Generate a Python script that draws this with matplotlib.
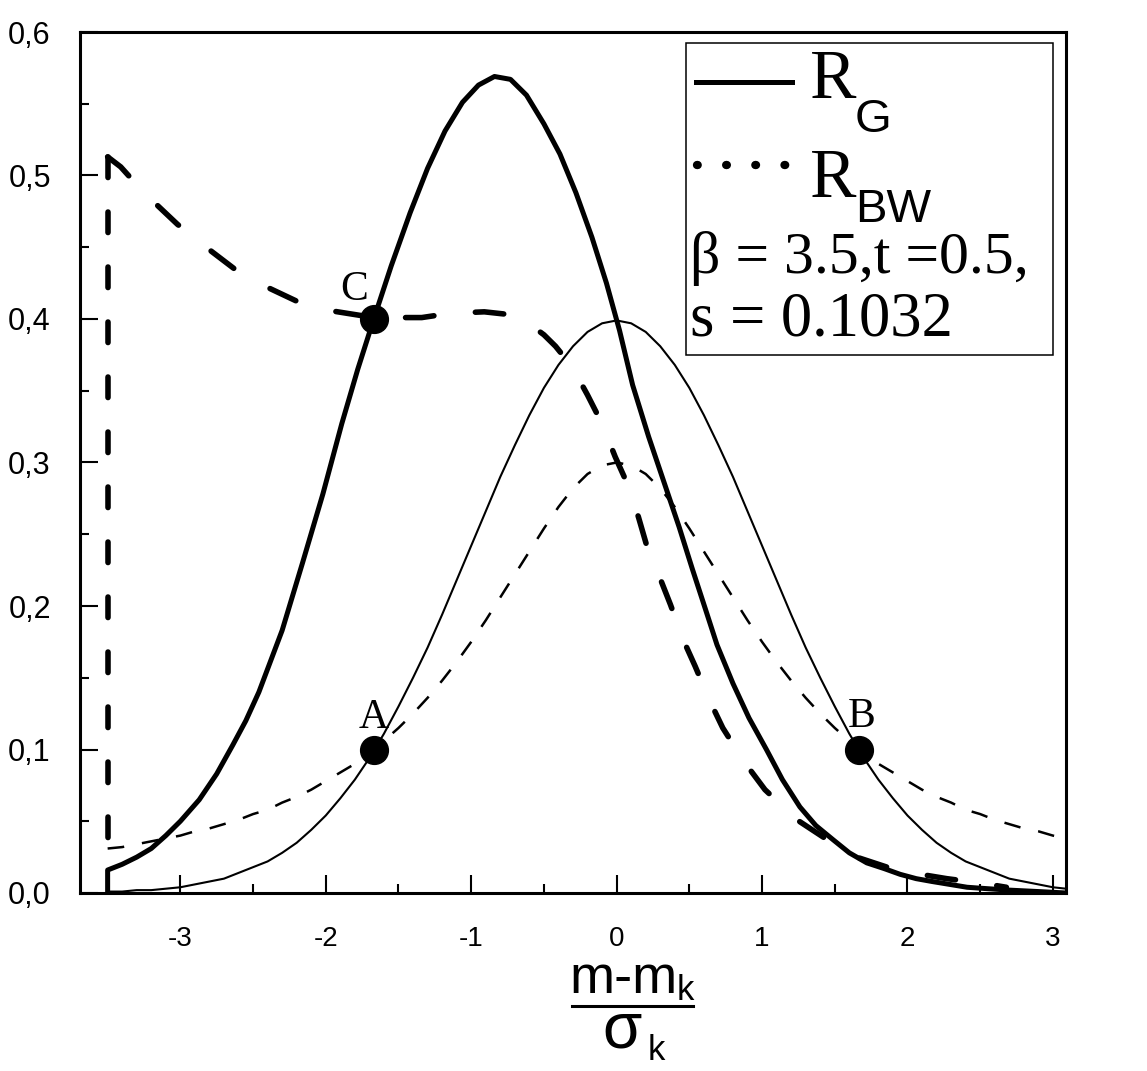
import matplotlib
matplotlib.use('Agg')
import matplotlib.pyplot as plt
from matplotlib.lines import Line2D
from matplotlib.patches import Rectangle
from matplotlib.ticker import MultipleLocator, FuncFormatter

plt.rcParams['lines.scale_dashes'] = False
plt.rcParams['axes.unicode_minus'] = False

W, H = 1147, 1071

# x grid used for the two thin curves (read every 0.1)
thin_x = [-3.5, -3.4, -3.3, -3.2, -3.1, -3.0, -2.9, -2.8, -2.7, -2.6,
          -2.5, -2.4, -2.3, -2.2, -2.1, -2.0, -1.9, -1.8, -1.7, -1.6,
          -1.5, -1.4, -1.3, -1.2, -1.1, -1.0, -0.9, -0.8, -0.7, -0.6,
          -0.5, -0.4, -0.3, -0.2, -0.1, 0.0, 0.1, 0.2, 0.3, 0.4,
          0.5, 0.6, 0.7, 0.8, 0.9, 1.0, 1.1, 1.2, 1.3, 1.4,
          1.5, 1.6, 1.7, 1.8, 1.9, 2.0, 2.1, 2.2, 2.3, 2.4,
          2.5, 2.6, 2.7, 2.8, 2.9, 3.0, 3.09]

# thin solid: gaussian
gauss_y = [0.001, 0.001, 0.002, 0.002, 0.003, 0.004, 0.006, 0.008, 0.010, 0.014,
           0.018, 0.022, 0.028, 0.035, 0.044, 0.054, 0.066, 0.079, 0.094, 0.111,
           0.130, 0.150, 0.171, 0.194, 0.218, 0.242, 0.266, 0.290, 0.312, 0.333,
           0.352, 0.368, 0.381, 0.391, 0.397, 0.399, 0.397, 0.391, 0.381, 0.368,
           0.352, 0.333, 0.312, 0.290, 0.266, 0.242, 0.218, 0.194, 0.171, 0.150,
           0.130, 0.111, 0.094, 0.079, 0.066, 0.054, 0.044, 0.035, 0.028, 0.022,
           0.018, 0.014, 0.010, 0.008, 0.006, 0.004, 0.003]

# thin dashed: breit-wigner
bw_y = [0.031, 0.032, 0.034, 0.036, 0.038, 0.040, 0.043, 0.045, 0.048, 0.051,
        0.055, 0.058, 0.063, 0.067, 0.072, 0.078, 0.084, 0.090, 0.098, 0.106,
        0.115, 0.125, 0.136, 0.148, 0.161, 0.175, 0.190, 0.206, 0.222, 0.238,
        0.254, 0.269, 0.282, 0.292, 0.298, 0.300, 0.298, 0.292, 0.282, 0.269,
        0.254, 0.238, 0.222, 0.206, 0.190, 0.175, 0.161, 0.148, 0.136, 0.125,
        0.115, 0.106, 0.098, 0.090, 0.084, 0.078, 0.072, 0.067, 0.063, 0.058,
        0.055, 0.051, 0.048, 0.045, 0.043, 0.040, 0.038]

# thick solid: R_G
rg_x = [-3.50, -3.50, -3.40, -3.30, -3.20, -3.10, -3.00, -2.87, -2.75, -2.64,
        -2.55, -2.46, -2.30, -2.16, -2.02, -1.89, -1.78, -1.67, -1.55, -1.42,
        -1.30, -1.18, -1.06, -0.95, -0.84, -0.73, -0.62, -0.50, -0.39, -0.28,
        -0.17, -0.07, 0.02, 0.11, 0.22, 0.33, 0.43, 0.52, 0.61, 0.69,
        0.80, 0.91, 1.03, 1.14, 1.26, 1.37, 1.49, 1.60, 1.72, 1.84,
        1.95, 2.06, 2.17, 2.29, 2.41, 2.55, 2.70, 2.90, 3.09]
rg_y = [0.000, 0.016, 0.020, 0.025, 0.031, 0.040, 0.050, 0.065, 0.083, 0.103,
        0.120, 0.140, 0.183, 0.230, 0.278, 0.327, 0.365, 0.400, 0.437, 0.474,
        0.505, 0.531, 0.551, 0.563, 0.569, 0.567, 0.556, 0.536, 0.515, 0.488,
        0.457, 0.425, 0.392, 0.354, 0.318, 0.285, 0.255, 0.226, 0.198, 0.173,
        0.146, 0.122, 0.100, 0.079, 0.060, 0.047, 0.037, 0.028, 0.021, 0.017,
        0.013, 0.010, 0.008, 0.006, 0.004, 0.003, 0.002, 0.001, 0.000]

# thick dashed: R_BW
rbw_x = [-3.50, -3.50, -3.41, -3.25, -3.02, -2.81, -2.59, -2.40, -2.17, -1.98,
         -1.67, -1.34, -1.14, -0.91, -0.73, -0.62, -0.50, -0.42, -0.34, -0.27,
         -0.20, -0.10, -0.01, 0.07, 0.15, 0.21, 0.30, 0.37, 0.46, 0.54,
         0.64, 0.73, 0.88, 1.02, 1.24, 1.45, 1.65, 1.86, 2.09, 2.27,
         2.50, 2.68]
rbw_y = [0.030, 0.513, 0.506, 0.488, 0.466, 0.449, 0.432, 0.422, 0.411, 0.406,
         0.401, 0.401, 0.404, 0.405, 0.403, 0.398, 0.389, 0.381, 0.371, 0.360,
         0.347, 0.327, 0.304, 0.286, 0.262, 0.241, 0.219, 0.201, 0.176, 0.158,
         0.134, 0.115, 0.091, 0.072, 0.051, 0.037, 0.025, 0.018, 0.013, 0.010,
         0.007, 0.004]

pts_x = [-1.67, 1.67, -1.67]
pts_y = [0.10, 0.10, 0.40]
pts_labels = ['A', 'B', 'C']
label_offsets = [(0, 15.5), (1.5, 16.5), (-14, 13.5)]

fig = plt.figure(figsize=(W / 100, H / 100), dpi=100)
ax = fig.add_axes([80 / W, 1 - 893 / H, (1066 - 80) / W, (893 - 32) / H])

ax.plot(thin_x, gauss_y, color='black', lw=1.5)
ax.plot(thin_x, bw_y, color='black', lw=1.8, dashes=(12, 13))
ax.plot(rg_x, rg_y, color='black', lw=3.6, solid_joinstyle='round')
ax.plot(rbw_x[1::-1], rbw_y[1::-1], color='black', lw=4.0,
        dashes=(14.8, 24.8), dash_capstyle='round')
ax.plot(rbw_x[1:], rbw_y[1:], color='black', lw=4.0,
        dashes=(20.5, 30), dash_capstyle='round')

ax.plot(pts_x, pts_y, 'o', color='black', ms=20, zorder=5)
for x, y, lab, off in zip(pts_x, pts_y, pts_labels, label_offsets):
    ax.annotate(lab, xy=(x, y), xytext=off, textcoords='offset points',
                ha='center', va='baseline', fontsize=30,
                family='Liberation Serif', zorder=6)

ax.set_xlim(-3.69, 3.09)
ax.set_ylim(0, 0.6)
ax.xaxis.set_major_locator(MultipleLocator(1))
ax.xaxis.set_minor_locator(MultipleLocator(0.5))
ax.yaxis.set_major_locator(MultipleLocator(0.1))
ax.yaxis.set_minor_locator(MultipleLocator(0.05))
ax.xaxis.set_major_formatter(FuncFormatter(lambda v, p: '%d' % round(v)))
ax.yaxis.set_major_formatter(FuncFormatter(lambda v, p: ('%.1f' % v).replace('.', ',')))
ax.tick_params(which='both', direction='in', top=False, right=False, width=1.5)
ax.tick_params(which='major', length=13)
ax.tick_params(which='minor', length=6.5)
ax.tick_params(axis='x', pad=24, labelsize=20)
ax.tick_params(axis='y', pad=21, labelsize=22)
for lab in ax.get_xticklabels() + ax.get_yticklabels():
    lab.set_family('Liberation Sans')
for sp in ax.spines.values():
    sp.set_linewidth(2.2)


def fx(px):
    return px / W


def fy(py):
    return 1 - py / H


# legend box
fig.add_artist(Rectangle((fx(686), fy(355)), fx(1053) - fx(686), fy(43) - fy(355),
                         transform=fig.transFigure, facecolor='white',
                         edgecolor='black', lw=1.1, zorder=3))
fig.add_artist(Line2D([fx(696), fx(792)], [fy(82), fy(82)], color='black', lw=3.6,
                      transform=fig.transFigure, zorder=4))
fig.add_artist(Line2D([fx(697), fx(790)], [fy(165), fy(165)], color='black', lw=6,
                      dashes=(0.5, 20.5), dash_capstyle='round',
                      transform=fig.transFigure, zorder=4))
serif = 'Liberation Serif'
sans = 'Liberation Sans'
fig.text(fx(810), fy(98), 'R', fontsize=50, family=serif, va='baseline', zorder=4)
fig.text(fx(855), fy(132), 'G', fontsize=34, family=sans, va='baseline', zorder=4)
fig.text(fx(810), fy(197), 'R', fontsize=50, family=serif, va='baseline', zorder=4)
fig.text(fx(855), fy(222), 'BW', fontsize=34, family=sans, va='baseline', zorder=4)
fig.text(fx(690), fy(273), '\u03b2 = 3.5,t =0.5,', fontsize=43, family=serif,
         va='baseline', zorder=4)
fig.text(fx(690), fy(335), 's = 0.1032', fontsize=45, family=serif,
         va='baseline', zorder=4)

# x label as a fraction
fig.text(fx(569), fy(993), 'm-m', fontsize=39, family=sans, va='baseline')
fig.text(fx(677), fy(1000), 'k', fontsize=25, family=sans, va='baseline')
fig.add_artist(Line2D([fx(572), fx(693)], [fy(1006), fy(1006)], color='black', lw=2.2,
                      transform=fig.transFigure))
fig.text(fx(602), fy(1048), '\u03c3', fontsize=46, family=sans, va='baseline')
fig.text(fx(648), fy(1060), 'k', fontsize=25, family=sans, va='baseline')

fig.savefig('out.png', dpi=100)
